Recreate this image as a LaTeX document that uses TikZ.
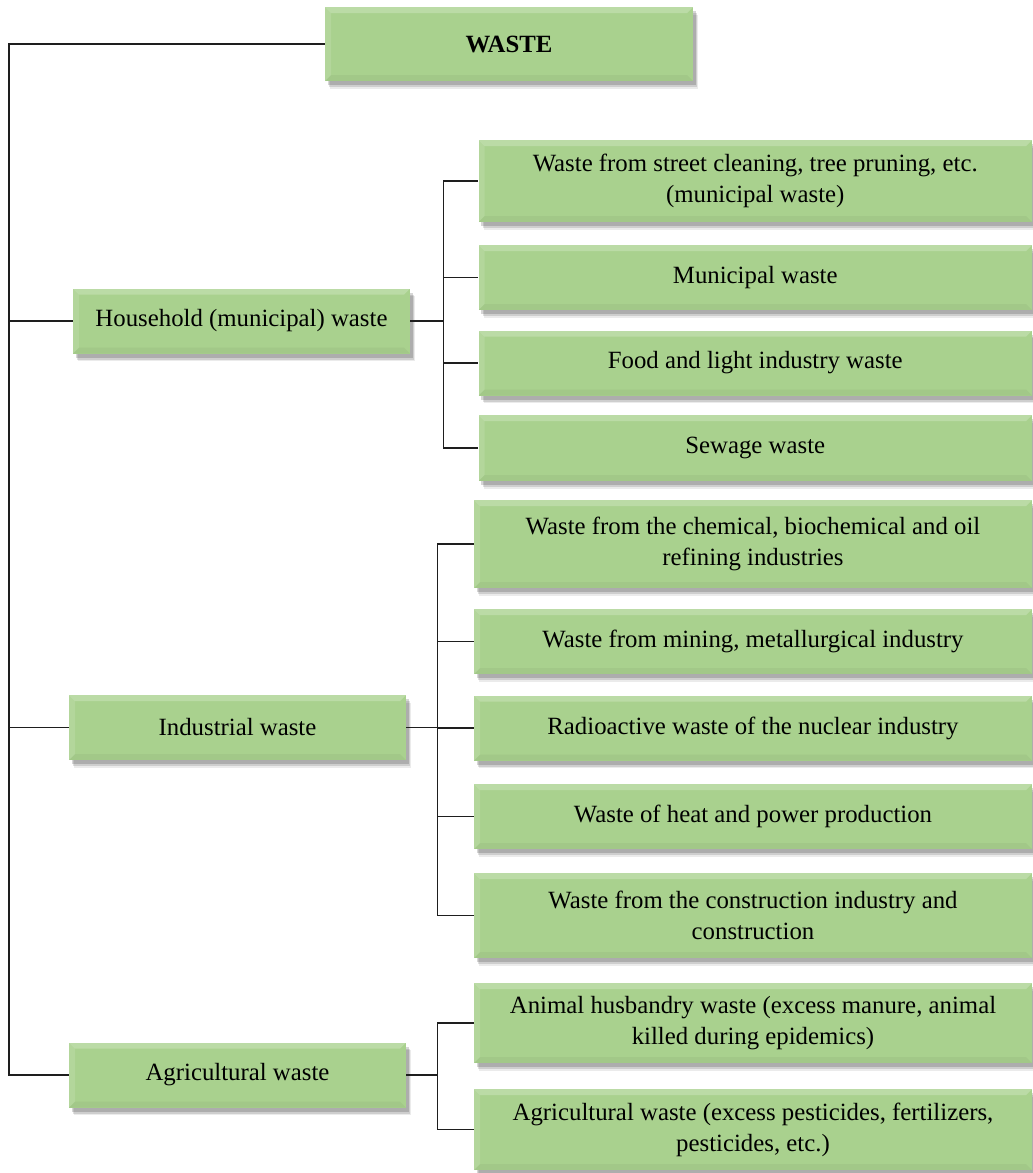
\documentclass[tikz,border=0pt]{standalone}
\usepackage{fontspec}
\setmainfont{Liberation Serif}
\usepackage{tikz}
\usetikzlibrary{positioning, shadows, calc}
\definecolor{wgreen}{HTML}{A9D18E}
\definecolor{wline}{HTML}{1E1E1E}
\tikzset{
  bevel/.style={path picture={
      \fill[white, opacity=0.22] (path picture bounding box.north west) -- (path picture bounding box.north east)
        -- ([shift={(-3pt,-3pt)}]path picture bounding box.north east) -- ([shift={(3pt,-3pt)}]path picture bounding box.north west) -- cycle;
      \fill[white, opacity=0.12] (path picture bounding box.north west) -- (path picture bounding box.south west)
        -- ([shift={(3pt,3pt)}]path picture bounding box.south west) -- ([shift={(3pt,-3pt)}]path picture bounding box.north west) -- cycle;
      \fill[black, opacity=0.04] (path picture bounding box.south west) -- (path picture bounding box.south east)
        -- ([shift={(-3pt,3pt)}]path picture bounding box.south east) -- ([shift={(3pt,3pt)}]path picture bounding box.south west) -- cycle;}},
  softshadow/.style={
    drop shadow={shadow xshift=2.6pt, shadow yshift=-3.8pt, opacity=0.08, fill=black},
    drop shadow={shadow xshift=2.0pt, shadow yshift=-3.0pt, opacity=0.12, fill=black},
    drop shadow={shadow xshift=1.4pt, shadow yshift=-2.2pt, opacity=0.16, fill=black}},
  box/.style={rectangle, fill=wgreen, draw=none, text=black, align=center, inner sep=0pt,
              font=\fontsize{12.4}{15.5}\selectfont, bevel, softshadow},
  cat/.style={box, minimum width=168.5pt, minimum height=32.5pt},
  hleaf/.style={box, minimum width=276.75pt, minimum height=32.5pt},
  ileaf/.style={box, minimum width=279pt, minimum height=32.5pt},
  link/.style={draw=wline, line width=0.7pt}
}
\begin{document}
\begin{tikzpicture}[x=0.5pt, y=-0.5pt]
  \useasboundingbox (0,0) rectangle (1033,1173);
  % root and the three groups
  \node[box, minimum width=184pt, minimum height=37pt, font=\fontsize{12.4}{15.5}\selectfont\bfseries] (waste) at (509,44) {WASTE};
  \node[cat] (house) at (241.5,321) {Household (municipal) waste};
  \node[cat] (indus) at (237.5,727.5) {Industrial waste};
  \node[cat] (agri) at (237.5,1075) {Agricultural waste};
  % household
  \node[hleaf, minimum height=41pt] (h1) at (755.25,181) {Waste from street cleaning, tree pruning, etc.\\(municipal waste)};
  \node[hleaf] (h2) at (755.25,277.5) {Municipal waste};
  \node[hleaf] (h3) at (755.25,363) {Food and light industry waste};
  \node[hleaf, minimum height=33pt] (h4) at (755.25,448) {Sewage waste};
  % industrial
  \node[ileaf, minimum height=44pt] (i1) at (753,544) {Waste from the chemical, biochemical and oil\\refining industries};
  \node[ileaf] (i2) at (753,641.5) {Waste from mining, metallurgical industry};
  \node[ileaf] (i3) at (753,728) {Radioactive waste of the nuclear industry};
  \node[ileaf] (i4) at (753,816.5) {Waste of heat and power production};
  \node[ileaf, minimum height=42.5pt] (i5) at (753,915.5) {Waste from the construction industry and\\construction};
  % agricultural
  \node[ileaf, minimum height=40pt] (a1) at (753,1023) {Animal husbandry waste (excess manure, animal\\killed during epidemics)};
  \node[ileaf, minimum height=40.5pt] (a2) at (753,1129.5) {Agricultural waste (excess pesticides, fertilizers,\\pesticides, etc.)};
  % connectors
  \coordinate (trunk) at (9,44);
  \draw[link] (waste.west) -- (trunk) |- (agri.west);
  \draw[link] (trunk |- house.west) -- (house.west);
  \draw[link] (trunk |- indus.west) -- (indus.west);
  \coordinate (hbus) at ([xshift=16.5pt]house.east);
  \coordinate (ibus) at ([xshift=15.5pt]indus.east);
  \coordinate (abus) at ([xshift=15.5pt]agri.east);
  \draw[link] (house.east) -- (hbus);
  \draw[link] (indus.east) -- (ibus);
  \draw[link] (agri.east) -- (abus);
  \foreach \l in {h1,h2,h3,h4} \draw[link] (hbus) |- (\l.west);
  \foreach \l in {i1,i2,i3,i4,i5} \draw[link] (ibus) |- (\l.west);
  \foreach \l in {a1,a2} \draw[link] (abus) |- (\l.west);
\end{tikzpicture}
\end{document}
